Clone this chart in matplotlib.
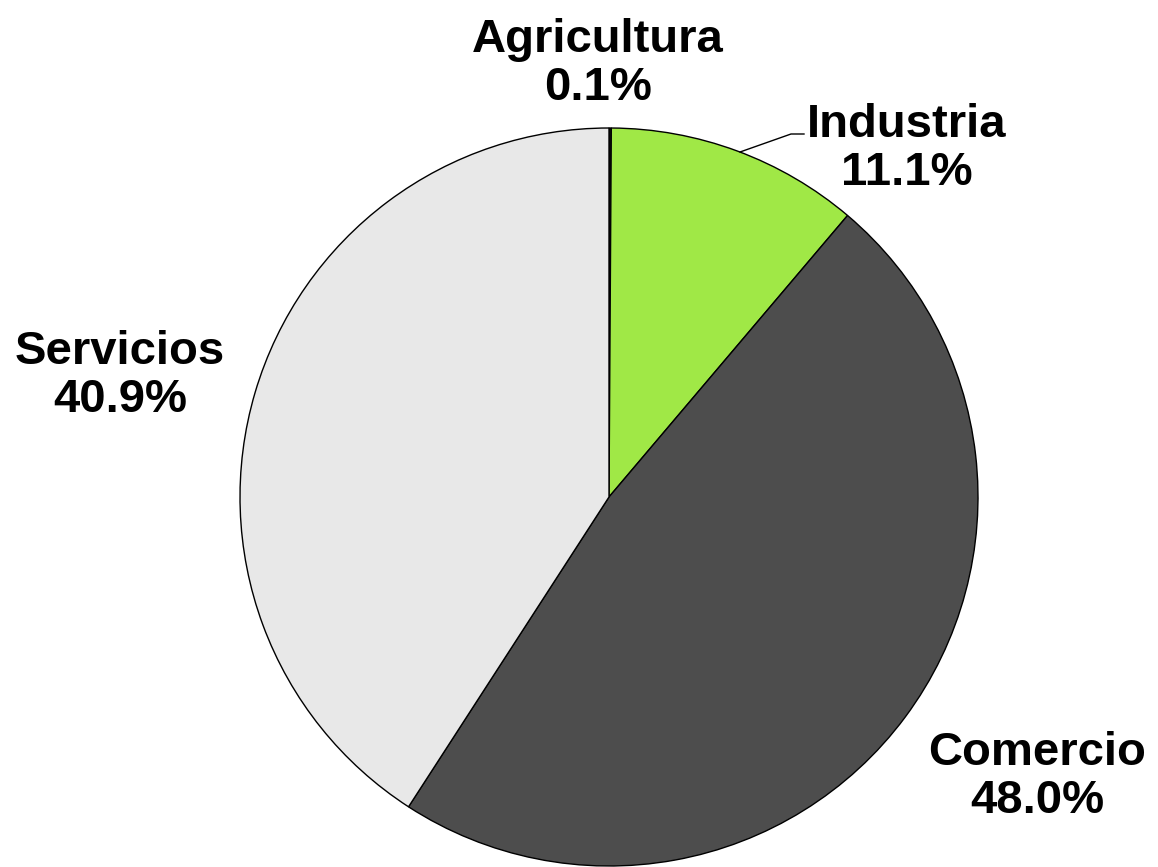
import matplotlib
matplotlib.use('Agg')
import matplotlib.pyplot as plt

sectores = ['Agricultura', 'Industria', 'Comercio', 'Servicios']
porcentajes = [0.1, 11.1, 48.0, 40.9]
colores = ['#1a1a1a', '#A0E846', '#4D4D4D', '#E8E8E8']

W, H = 1158, 867
CX, CY, R = 609, 497, 369

fig = plt.figure(figsize=(W / 100, H / 100), dpi=100)
ax = fig.add_axes([0, 0, 1, 1])
ax.set_aspect('equal')
ax.axis('off')

ax.pie(porcentajes, colors=colores, startangle=90, counterclock=False,
       radius=1.0, center=(0, 0), frame=False,
       wedgeprops=dict(edgecolor='black', linewidth=1.0))
ax.set_xlim(-CX / R, (W - CX) / R)
ax.set_ylim(-(H - CY) / R, CY / R)

# posiciones de etiquetas en pixeles de la imagen
pos_etiquetas = {
    'Agricultura': (598, 64),
    'Industria': (907, 149),
    'Comercio': (1037, 777),
    'Servicios': (120, 376),
}

def px(x, y):
    return ((x - CX) / R, (CY - y) / R)

for nombre, pct in zip(sectores, porcentajes):
    x, y = pos_etiquetas[nombre]
    ax.text(*px(x, y), f'{nombre}\n{pct:.1f}%', ha='center', va='center',
            fontsize=34, fontweight='bold', family='Liberation Sans',
            linespacing=1.12)

# linea guia de Industria
ax.plot(*zip(px(740, 152), px(791, 134), px(804, 134)), color='black', lw=1.0)

fig.savefig('out.png', dpi=100, facecolor='white')
